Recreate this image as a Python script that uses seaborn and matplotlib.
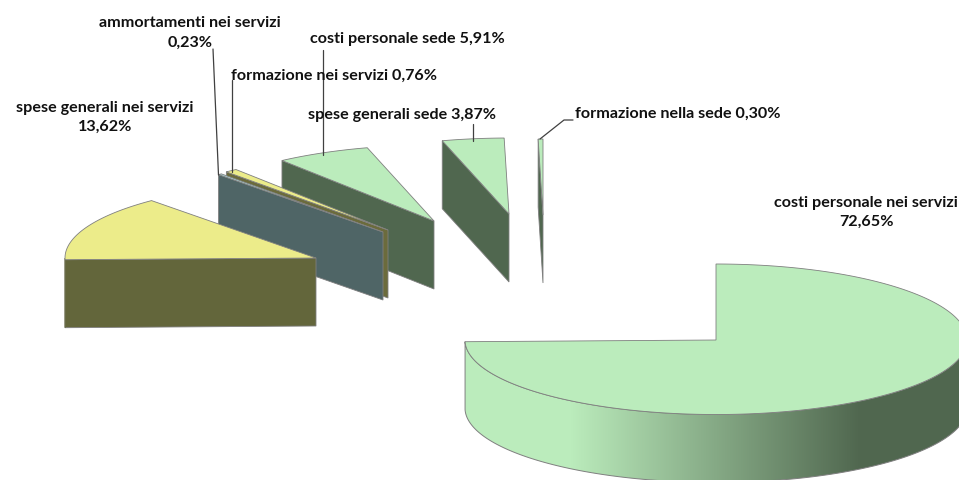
import numpy as np
import matplotlib
matplotlib.use("Agg")
import matplotlib.pyplot as plt
from matplotlib.patches import Polygon
from matplotlib.colors import to_rgb
import seaborn as sns

# ---- data -------------------------------------------------------------
categories = ["costi personale nei servizi", "spese generali nei servizi",
              "ammortamenti nei servizi", "formazione nei servizi",
              "costi personale sede", "spese generali sede",
              "formazione nella sede"]
values = [72.65, 13.62, 0.23, 0.76, 5.91, 3.87, 0.30]

# ---- style / layout ---------------------------------------------------
top_colors = ["#BBECBC", "#ECEC8A", "#A9D3D4", "#ECEC8A", "#BBECBC", "#BBECBC", "#BBECBC"]
side_colors = ["#50674F", "#63663B", "#4F6566", "#6B6B3C", "#50674F", "#50674F", "#50674F"]
apex_x = [716, 316, 383, 388, 434, 509, 543]
apex_y = [340, 258, 232, 230, 221, 214, 215]
RX, RY_BACK, RY_FRONT, DEPTH = 251, 76, 74.5, 68
label_cx = [866, 105, 190, 334, 407, 401.5, 678]
label_cy = [212.5, 117.5, 33, 76, 39, 115, 114]
two_lines = [True, True, True, False, False, False, False]
leaders_x = [None, None, [213, 218.5], [232, 232], [323, 323], [473, 473], [573, 564, 540]]
leaders_y = [None, None, [49, 175], [80, 172], [50, 155], [124, 141], [120, 120, 139]]

sns.set_theme(style="white")
plt.rcParams["font.family"] = ["Lato", "DejaVu Sans"]

fig = plt.figure(figsize=(9.59, 4.80), dpi=100, facecolor="white")
ax = fig.add_axes([0, 0, 1, 1])
ax.set_xlim(0, 959)
ax.set_ylim(480, 0)
ax.axis("off")

EDGE = "#7f7f7f"


def ell(cx, cy, deg, dz=0.0):
    t = np.radians(deg)
    s = np.sin(t)
    ry = np.where(s > 0, RY_BACK, RY_FRONT)
    return cx + RX * np.cos(t), cy - ry * s + dz


total = sum(values)
spans = [v / total * 360 for v in values]
starts = 90 - np.concatenate([[0], np.cumsum(spans)[:-1]])


def draw_slice(i, z):
    a0 = starts[i] % 360 if i > 0 else starts[i]
    a1 = a0 - spans[i]
    cx, cy = apex_x[i], apex_y[i]
    top, side = top_colors[i], side_colors[i]
    # cut face at the clockwise-start edge
    ox, oy = ell(cx, cy, a0)
    ax.add_patch(Polygon([(cx, cy), (ox, oy), (ox, oy + DEPTH), (cx, cy + DEPTH)],
                         fc=side, ec=EDGE, lw=0.6, zorder=z))
    # outer wall: only the front part of the arc
    if i == 0:
        th = np.linspace(a1, 0, 300)
        xt, yt = ell(cx, cy, th)
        xb, yb = ell(cx, cy, th, DEPTH)
        wall = Polygon(np.r_[np.c_[xt, yt], np.c_[xb, yb][::-1]], fc="none", ec=EDGE, lw=0.7, zorder=z + 0.2)
        ax.add_patch(wall)
        xs = np.arange(460, 970)
        light, dark = np.array(to_rgb(top)), np.array(to_rgb(side))
        f = np.clip((xs - 570) / (860 - 570), 0, 1)[None, :, None]
        img = light * (1 - f) + dark * f
        im = ax.imshow(img, extent=(460, 970, 490, 300), aspect="auto", zorder=z + 0.1)
        im.set_clip_path(Polygon(wall.get_xy(), transform=ax.transData))
    elif a0 > 180:
        th = np.linspace(a0, max(a1, 180), 20)
        xt, yt = ell(cx, cy, th)
        xb, yb = ell(cx, cy, th, DEPTH)
        ax.add_patch(Polygon(np.r_[np.c_[xt, yt], np.c_[xb, yb][::-1]], fc=side, ec=side, lw=0.4, zorder=z + 0.1))
    # top face
    th = np.linspace(a0, a1, 400)
    xt, yt = ell(cx, cy, th)
    ax.add_patch(Polygon(np.r_[[(cx, cy)], np.c_[xt, yt]], fc=top, ec=EDGE, lw=0.6, zorder=z + 0.3))


order = [0, 6, 5, 4, 3, 2, 1]
for z, i in enumerate(order):
    draw_slice(i, 2 + z)

ax.set_xlim(0, 959)
ax.set_ylim(480, 0)

TXT = dict(fontsize=11.6, fontweight="bold", color="#111111", ha="center", va="center", zorder=30)
for i, name in enumerate(categories):
    pct = f"{values[i]:.2f}".replace(".", ",") + "%"
    s = f"{name}\n{pct}" if two_lines[i] else f"{name} {pct}"
    ax.text(label_cx[i], label_cy[i], s, linespacing=1.5, **TXT)
    if leaders_x[i] is not None:
        ax.plot(leaders_x[i], leaders_y[i], color="#404040", lw=0.9, zorder=25)

sns.despine(ax=ax, left=True, bottom=True)
fig.savefig("out.png", dpi=100, facecolor="white")
